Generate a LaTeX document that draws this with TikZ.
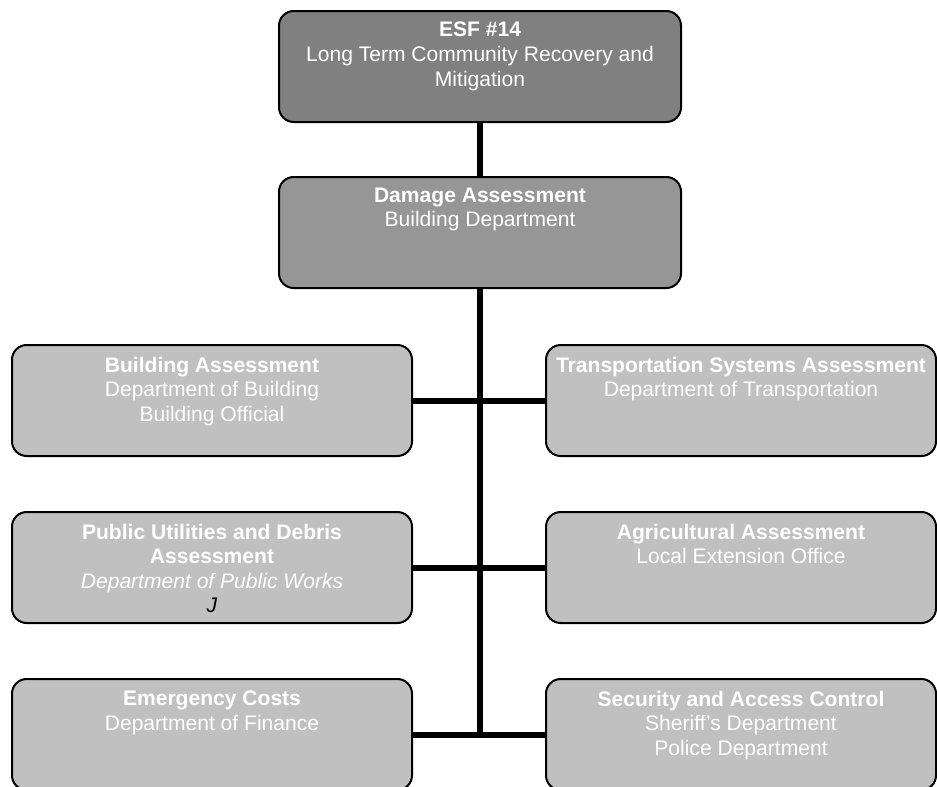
\documentclass[tikz,border=0pt]{standalone}
\usepackage{fontspec}
\setmainfont{Liberation Sans}
\definecolor{topfill}{HTML}{808080}
\definecolor{midfill}{HTML}{969696}
\definecolor{subfill}{HTML}{C0C0C0}
\begin{document}
\begin{tikzpicture}[x=0.75pt,y=-0.75pt,
  box/.style={draw=black,line width=1.5pt,rounded corners=11pt,minimum height=83.25pt,inner sep=0pt},
  wide/.style={box,minimum width=301.5pt},
  lbox/.style={box,fill=subfill,minimum width=300pt},
  rbox/.style={box,fill=subfill,minimum width=292.5pt},
  txt/.style={anchor=north,inner sep=0pt,align=center,text=white,font=\fontsize{15.8}{18.4}\selectfont},
  conn/.style={line width=4.5pt}]
\useasboundingbox (0,0) rectangle (937,786);
% boxes
\node[wide,fill=topfill] (esf) at (480,66.5) {};
\node[wide,fill=midfill] (dmg) at (480,232.5) {};
\node[lbox] (l1) at (212,400.5) {};
\node[lbox] (l2) at (212,567.5) {};
\node[lbox] (l3) at (212,734.5) {};
\node[rbox] (r1) at (741,400.5) {};
\node[rbox] (r2) at (741,567.5) {};
\node[rbox] (r3) at (741,734.5) {};
% connectors
\coordinate (j3) at (480,734.5);
\draw[conn] (esf.south) -- (dmg.north);
\draw[conn] (dmg.south) -- (j3);
\draw[conn] (l1.east) -- (r1.west);
\draw[conn] (l2.east) -- (r2.west);
\draw[conn] (l3.east) -- (r3.west);
% texts
\node[txt] (tesf) at ([yshift=-9pt]esf.north) {\textbf{ESF \#14}\\Long Term Community Recovery and\\Mitigation};
\node[txt] (tdmg) at ([yshift=-8.5pt]dmg.north) {\textbf{Damage Assessment}\\Building Department};
\node[txt] (tl1) at ([yshift=-9.5pt]l1.north) {\textbf{Building Assessment}\\Department of Building\\Building Official};
\node[txt] (tl2) at ([yshift=-9.5pt]l2.north) {\textbf{Public Utilities and Debris}\\\textbf{Assessment}\\\textit{Department of Public Works}\\\textcolor{black}{\textit{J}}};
\node[txt] (tl3) at ([yshift=-9.5pt]l3.north) {\textbf{Emergency Costs}\\Department of Finance};
\node[txt] (tr1) at ([yshift=-9.5pt]r1.north) {\textbf{Transportation Systems Assessment}\\Department of Transportation};
\node[txt] (tr2) at ([yshift=-9.5pt]r2.north) {\textbf{Agricultural Assessment}\\Local Extension Office};
\node[txt] (tr3) at ([yshift=-9.5pt]r3.north) {\textbf{Security and Access Control}\\Sheriff’s Department\\Police Department};
\end{tikzpicture}
\end{document}
